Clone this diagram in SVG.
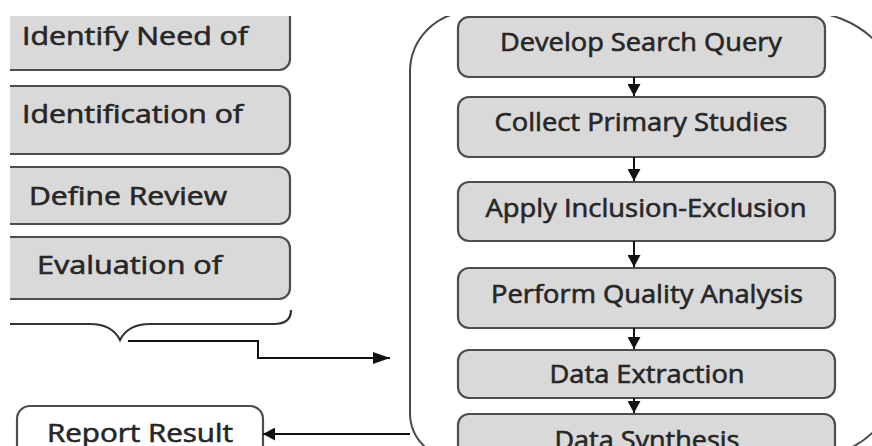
<svg xmlns="http://www.w3.org/2000/svg" width="872" height="446" viewBox="0 0 872 446">
  <defs>
    <clipPath id="view">
      <rect x="10" y="16" width="862" height="430"/>
    </clipPath>
    <marker id="arrow" viewBox="0 0 12 13" refX="12" refY="6.5" markerWidth="12" markerHeight="13" markerUnits="userSpaceOnUse" orient="auto">
      <path d="M0,0 L12,6.5 L0,13 Z" fill="#111"/>
    </marker>
    <marker id="arrow-long" viewBox="0 0 17 12" refX="17" refY="6" markerWidth="17" markerHeight="12" markerUnits="userSpaceOnUse" orient="auto">
      <path d="M0,0 L17,6 L0,12 Z" fill="#111"/>
    </marker>
  </defs>
  <style>
    .box { fill: #d9d9d9; stroke: #4d4d4d; stroke-width: 2.2; }
    .plain { fill: #ffffff; stroke: #4d4d4d; stroke-width: 2.2; }
    .label { font-family: "Open Sans", "Noto Sans", "DejaVu Sans", sans-serif; font-size: 25px; font-weight: 400; fill: #262626; stroke: #262626; stroke-width: 0.6; }
    .mid { text-anchor: middle; }
    .wire { fill: none; stroke: #111; stroke-width: 2; }
    .frame { fill: none; stroke: #4a4a4a; stroke-width: 2; }
    .brace { fill: none; stroke: #333; stroke-width: 2.2; }
  </style>
  <rect width="872" height="446" fill="#ffffff"/>
  <g clip-path="url(#view)">
    <!-- planning phase -->
    <g id="identify-need">
      <rect class="box" x="-20" y="0" width="310" height="70" rx="11"/>
      <text class="label" x="22" y="45" textLength="226" lengthAdjust="spacingAndGlyphs">Identify Need of</text>
    </g>
    <g id="identification">
      <rect class="box" x="-20" y="86" width="310" height="68" rx="11"/>
      <text class="label" x="22" y="123" textLength="221" lengthAdjust="spacingAndGlyphs">Identification of</text>
    </g>
    <g id="define-review">
      <rect class="box" x="-20" y="167" width="310" height="57" rx="11"/>
      <text class="label" x="29" y="205" textLength="198" lengthAdjust="spacingAndGlyphs">Define Review</text>
    </g>
    <g id="evaluation">
      <rect class="box" x="-20" y="237" width="310" height="62" rx="11"/>
      <text class="label" x="37" y="274" textLength="185" lengthAdjust="spacingAndGlyphs">Evaluation of</text>
    </g>
    <g id="brace">
      <path class="brace" d="M0,324 L90,324 Q112,324 120,340 Q128,324 150,324 L274,324 Q291,324 291,310"/>
    </g>
    <g id="report-result">
      <rect class="plain" x="17" y="406" width="246" height="70" rx="13"/>
      <text class="label" x="47" y="442" textLength="186" lengthAdjust="spacingAndGlyphs">Report Result</text>
    </g>

    <!-- conducting phase container -->
    <g id="conduct-frame">
      <path class="frame" d="M410,72 A60,60 0 0 1 470,12 L805,12 A100,100 0 0 1 905,112 L905,359 A100,100 0 0 1 805,459 L456,459 A46,46 0 0 1 410,413 Z"/>
    </g>
    <g id="develop-query">
      <rect class="box" x="458" y="17" width="367" height="60" rx="11"/>
      <text class="label mid" x="641" y="51" textLength="282" lengthAdjust="spacingAndGlyphs">Develop Search Query</text>
    </g>
    <g id="collect-studies">
      <rect class="box" x="458" y="97" width="367" height="60" rx="11"/>
      <text class="label mid" x="641" y="131" textLength="293" lengthAdjust="spacingAndGlyphs">Collect Primary Studies</text>
    </g>
    <g id="inclusion-exclusion">
      <rect class="box" x="458" y="182" width="377" height="59" rx="11"/>
      <text class="label mid" x="646" y="217" textLength="321" lengthAdjust="spacingAndGlyphs">Apply Inclusion-Exclusion</text>
    </g>
    <g id="quality-analysis">
      <rect class="box" x="458" y="268" width="377" height="60" rx="11"/>
      <text class="label mid" x="647" y="303" textLength="312" lengthAdjust="spacingAndGlyphs">Perform Quality Analysis</text>
    </g>
    <g id="data-extraction">
      <rect class="box" x="458" y="350" width="377" height="48" rx="11"/>
      <text class="label mid" x="647" y="383" textLength="195" lengthAdjust="spacingAndGlyphs">Data Extraction</text>
    </g>
    <g id="data-synthesis">
      <rect class="box" x="458" y="414" width="377" height="60" rx="11"/>
      <text class="label mid" x="647" y="449" textLength="185" lengthAdjust="spacingAndGlyphs">Data Synthesis</text>
    </g>

    <!-- connectors -->
    <g id="connectors">
      <path class="wire" d="M128,341 L258,341 L258,358 L390,358" marker-end="url(#arrow-long)"/>
      <path class="wire" d="M410,434 L263,434" marker-end="url(#arrow)"/>
      <path class="wire" d="M634,77 L634,96" marker-end="url(#arrow)"/>
      <path class="wire" d="M634,157 L634,181" marker-end="url(#arrow)"/>
      <path class="wire" d="M634,241 L634,267" marker-end="url(#arrow)"/>
      <path class="wire" d="M634,328 L634,349" marker-end="url(#arrow)"/>
      <path class="wire" d="M634,398 L634,413" marker-end="url(#arrow)"/>
    </g>
  </g>
</svg>
